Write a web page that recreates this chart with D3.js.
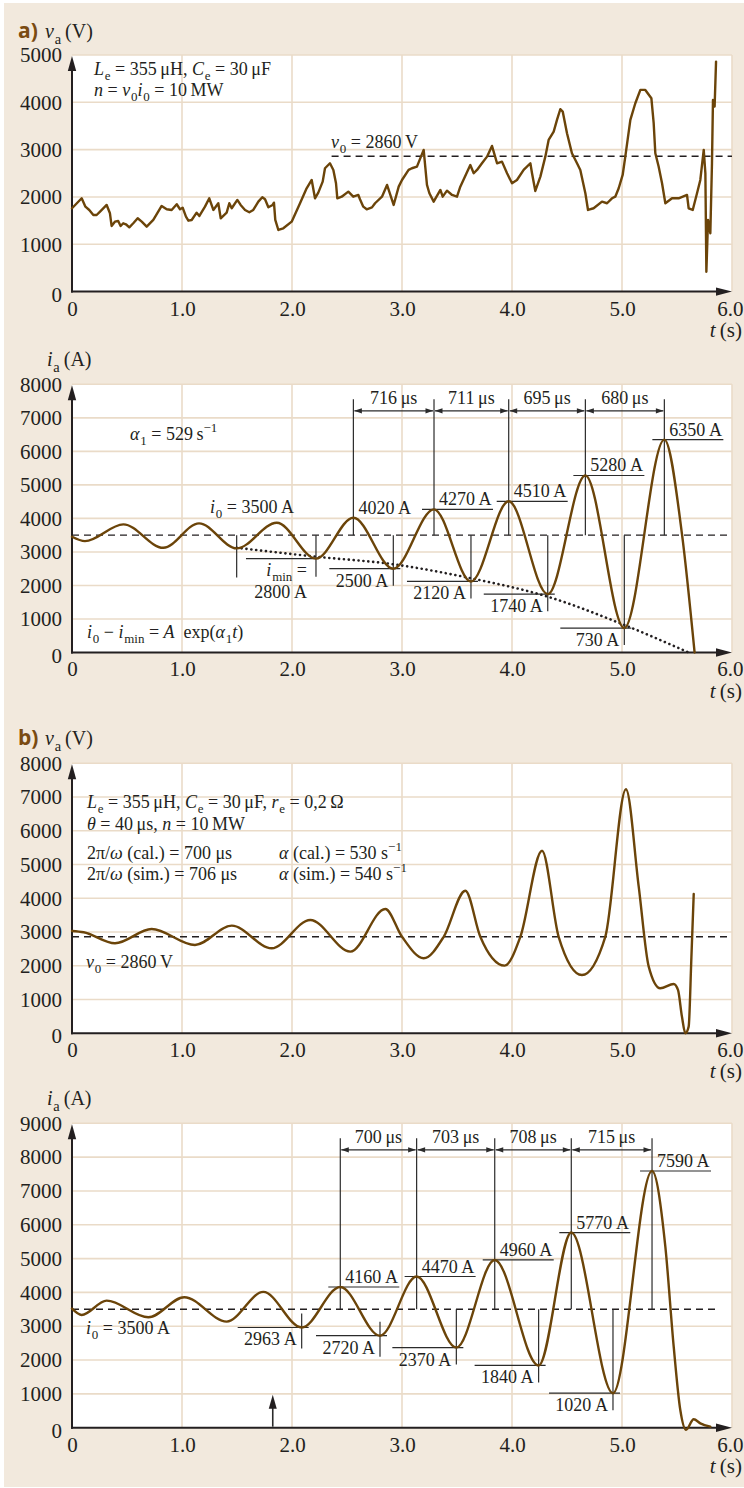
<!DOCTYPE html>
<html>
<head>
<meta charset="utf-8">
<script src="https://cdn.jsdelivr.net/npm/d3@7"></script>
<style>
html, body { margin: 0; padding: 0; background: #fff; }
svg { display: block; }
text { font-family: "Liberation Serif", "Times New Roman", serif; fill: #231f20; }
</style>
</head>
<body>
<svg id="fig" width="744" height="1488"></svg>
<script>
// ---------- (a) measured anode voltage v_a (t in ms) ----------
const vaTime = [0.000, 0.088, 0.122, 0.157, 0.194, 0.224, 0.255, 0.315, 0.345, 0.360, 0.390, 0.420, 0.442, 0.466, 0.490, 0.521,
  0.557, 0.597, 0.634, 0.679, 0.739, 0.815, 0.861, 0.906, 0.952, 0.982, 1.006, 1.036, 1.058, 1.088, 1.133, 1.158, 1.209, 1.248,
  1.285, 1.330, 1.352, 1.406, 1.430, 1.452, 1.503, 1.533, 1.573, 1.612, 1.648, 1.694, 1.730, 1.755, 1.785, 1.824, 1.836, 1.848,
  1.876, 1.921, 1.997, 2.073, 2.133, 2.179, 2.209, 2.239, 2.279, 2.300, 2.345, 2.376, 2.400, 2.412, 2.452, 2.512, 2.557, 2.603,
  2.618, 2.648, 2.679, 2.727, 2.755, 2.818, 2.864, 2.924, 2.970, 3.000, 3.060, 3.090, 3.136, 3.197, 3.227, 3.249, 3.288, 3.349,
  3.370, 3.409, 3.455, 3.500, 3.530, 3.621, 3.652, 3.682, 3.727, 3.773, 3.818, 3.864, 3.909, 3.955, 4.000, 4.045, 4.106, 4.167,
  4.182, 4.212, 4.258, 4.303, 4.333, 4.379, 4.409, 4.439, 4.461, 4.500, 4.545, 4.591, 4.621, 4.667, 4.691, 4.742, 4.818, 4.864,
  4.909, 4.939, 4.970, 5.006, 5.030, 5.055, 5.076, 5.121, 5.167, 5.212, 5.267, 5.288, 5.303, 5.333, 5.364, 5.394, 5.455, 5.515,
  5.591, 5.606, 5.643, 5.682, 5.712, 5.743, 5.758, 5.767, 5.782, 5.803, 5.818, 5.827, 5.842, 5.855];
const vaVolt = [1761, 1972, 1795, 1725, 1619, 1619, 1690, 1831, 1655, 1387, 1478, 1492, 1387, 1444, 1423, 1359,
  1444, 1550, 1478, 1372, 1514, 1810, 1740, 1725, 1846, 1740, 1774, 1584, 1499, 1514, 1668, 1598, 1795, 1972,
  1725, 1867, 1550, 1668, 1867, 1761, 1937, 1831, 1725, 1677, 1725, 1901, 1994, 1951, 1782, 1831, 1880, 1514,
  1302, 1338, 1478, 1867, 2184, 2359, 1972, 2091, 2324, 2607, 2712, 2571, 2290, 1972, 2006, 2112, 2006, 2042,
  1951, 1795, 1740, 1780, 1867, 2006, 2254, 1831, 2218, 2359, 2571, 2607, 2642, 2994, 2254, 2078, 1901, 2148,
  2006, 2133, 2042, 2006, 2218, 2676, 2501, 2571, 2712, 2852, 3078, 2712, 2747, 2501, 2290, 2359, 2571, 2712,
  2501, 2127, 2430, 2852, 3205, 3381, 3628, 3854, 3804, 3347, 2924, 2712, 2571, 2078, 1725, 1761, 1901, 1867,
  1972, 2006, 2184, 2465, 2852, 3275, 3628, 3981, 4262, 4262, 4087, 3558, 2924, 2642, 2290, 1867, 1972, 1972,
  2042, 1761, 1725, 2078, 2359, 2994, 2501, 421, 1514, 1232, 2712, 4051, 3910, 4861];
const v0 = 2860;

// ---------- (a) anode current i_a: turning points of the oscillation ----------
const iaTime = [0, 0.118, 0.467, 0.830, 1.155, 1.497, 1.861, 2.218, 2.558, 2.921, 3.291, 3.627, 3.970, 4.325, 4.667, 5.021, 5.385, 5.545, 5.660];
const iaCur  = [3452, 3323, 3823, 3123, 3853, 3105, 3871, 2800, 4020, 2500, 4270, 2120, 4510, 1740, 5280, 730, 6350, 3540, 0];
const i0 = 3500;
const iaPeakIdx = [8, 10, 12, 14, 16];
const iaPeriods = [716, 711, 695, 680];
const iaMinIdx = [7, 9, 11, 13, 15];
const iaFirstMinIdx = 5;
// envelope of the minima, i0 - A exp(alpha1 t)
const fitTime = [1.497, 2.218, 2.921, 3.627, 4.325, 5.021, 5.606];
const fitCur  = [3124, 2858, 2631, 2214, 1665, 821, 0];

// ---------- (b) simulated anode voltage ----------
const vbTime = [0, 0.106, 0.391, 0.724, 1.118, 1.452, 1.815, 2.166, 2.530, 2.848, 3.000, 3.197, 3.379, 3.576, 3.712, 3.933,
  4.076, 4.273, 4.424, 4.636, 4.848, 5.036, 5.152, 5.243, 5.348, 5.470, 5.509, 5.545, 5.576, 5.606, 5.630, 5.652];
const vbVolt = [3031, 2993, 2667, 3091, 2617, 3190, 2519, 3358, 2419, 3684, 2860, 2222, 2860, 4225, 2860, 2004,
  2860, 5410, 2860, 1728, 2860, 7229, 4345, 1975, 1333, 1462, 1284, 493, 0, 198, 2173, 4128];

// ---------- (b) simulated anode current ----------
const ibTime = [0, 0.088, 0.315, 0.694, 1.021, 1.406, 1.739, 2.088, 2.439, 2.800, 3.133, 3.494, 3.843, 4.242, 4.539, 4.918,
  5.273, 5.394, 5.470, 5.530, 5.582, 5.652, 5.712, 5.803];
const ibCur  = [3521, 3334, 3757, 3266, 3858, 3136, 4015, 2963, 4160, 2720, 4470, 2370, 4960, 1840, 5770, 1020,
  7590, 5355, 2396, 524, -60, 249, 130, 30];
const ibPeakIdx = [8, 10, 12, 14, 16];
const ibPeriods = [700, 703, 708, 715];
const ibMinIdx = [7, 9, 11, 13, 15];
const ibStartTime = [1.825];

// ---------- axis ticks ----------
const timeTicks = [0, 1, 2, 3, 4, 5, 6];

// ================= drawing =================
const INK = '#231f20', BROWN = '#6b4409', GRID = '#eadbc8', PANEL = '#f2e9dd', LINE = '#2b2b2b';
const FS_TICK = 21, FS_NOTE = 18, FS_TITLE = 20;
const svg = d3.select('#fig');
svg.append('rect').attr('x', 4).attr('y', 3).attr('width', 740).attr('height', 1484).attr('fill', PANEL);

const x = d3.scaleLinear().domain([0, 6]).range([72, 732]);

// text with <i>, <sub>, <sup> markup
function rich(g, px, py, markup, size, anchor) {
  const fs = size || FS_NOTE;
  const t = g.append('text').attr('x', px).attr('y', py).attr('font-size', fs)
    .attr('text-anchor', anchor || 'start');
  let italic = false, shift = 0, cur = 0;
  const re = /<(\/?)(i|sub|sup)>/g;
  let last = 0, m;
  const push = s => {
    if (!s) return;
    const ts = t.append('tspan').text(s);
    if (italic) ts.attr('font-style', 'italic');
    if (shift !== cur) {
      ts.attr('dy', shift - cur);
      if (shift > 0) ts.attr('dx', 0.8);
      cur = shift;
    }
    if (shift !== 0) ts.attr('font-size', fs * 0.72);
  };
  while ((m = re.exec(markup))) {
    push(markup.slice(last, m.index));
    last = re.lastIndex;
    const close = m[1] === '/';
    if (m[2] === 'i') italic = !close;
    else if (m[2] === 'sub') shift = close ? 0 : fs * 0.3;
    else shift = close ? 0 : -fs * 0.42;
  }
  push(markup.slice(last));
  return t;
}

function panel(top, bottom, yMax) {
  const y = d3.scaleLinear().domain([0, yMax]).range([bottom, top]);
  const g = svg.append('g');
  g.append('rect').attr('x', 72).attr('y', top).attr('width', 660).attr('height', bottom - top).attr('fill', '#fff');
  const yTicks = d3.range(0, yMax + 1, 1000);
  g.append('g').selectAll('line').data(yTicks.slice(1)).join('line')
    .attr('x1', 72).attr('x2', 732).attr('y1', d => y(d)).attr('y2', d => y(d))
    .attr('stroke', GRID).attr('stroke-width', 1.6);
  g.append('g').selectAll('line').data(timeTicks.slice(1)).join('line')
    .attr('x1', d => x(d)).attr('x2', d => x(d)).attr('y1', top).attr('y2', bottom)
    .attr('stroke', GRID).attr('stroke-width', 1.6);

  // tick labels
  const ya = g.append('g').attr('transform', 'translate(72,0)')
    .call(d3.axisLeft(y).tickValues(yTicks).tickSize(0).tickPadding(10).tickFormat(d3.format('d')));
  ya.select('.domain').remove();
  ya.attr('font-family', null).attr('font-size', FS_TICK);
  ya.selectAll('text').attr('fill', INK).attr('dy', d => d === 0 ? '0.46em' : '0.32em');
  const xa = g.append('g').attr('transform', `translate(0,${bottom})`)
    .call(d3.axisBottom(x).tickValues(timeTicks).tickSize(0).tickPadding(9)
      .tickFormat(d => d === 0 ? '0' : d3.format('.1f')(d)));
  xa.select('.domain').remove();
  xa.attr('font-family', null).attr('font-size', FS_TICK);
  xa.selectAll('text').attr('fill', INK)
    .attr('text-anchor', d => d === 6 ? 'end' : 'middle')
    .attr('x', d => d === 6 ? 743 - x(6) : 0);

  // axis lines with arrows
  g.append('line').attr('x1', 72).attr('x2', 72).attr('y1', bottom + 1).attr('y2', top + 10)
    .attr('stroke', INK).attr('stroke-width', 2);
  g.append('path').attr('d', `M72,${top + 1}L67.8,${top + 16}L76.2,${top + 16}Z`).attr('fill', INK);
  g.append('line').attr('x1', 71).attr('x2', 722).attr('y1', bottom).attr('y2', bottom)
    .attr('stroke', INK).attr('stroke-width', 2);
  g.append('path').attr('d', `M732,${bottom}L716,${bottom - 4.2}L716,${bottom + 4.2}Z`).attr('fill', INK);

  rich(g, 742, bottom + 45, '<i>t</i>\u2009(s)', FS_TICK, 'end');
  return { g, y, top, bottom };
}

function dashed(g, y, v, t1, t2) {
  g.append('line').attr('x1', x(t1)).attr('x2', x(t2)).attr('y1', y(v)).attr('y2', y(v))
    .attr('stroke', INK).attr('stroke-width', 1.4).attr('stroke-dasharray', '7,5');
}

function curve(g, y, ts, vs, interp) {
  const line = d3.line().x(i => x(ts[i])).y(i => y(vs[i])).curve(interp);
  g.append('path').attr('d', line(d3.range(ts.length)))
    .attr('fill', 'none').attr('stroke', BROWN).attr('stroke-width', 2.4)
    .attr('stroke-linejoin', 'round').attr('stroke-linecap', 'round');
}

function seg(g, x1, y1, x2, y2, w) {
  g.append('line').attr('x1', x1).attr('y1', y1).attr('x2', x2).attr('y2', y2)
    .attr('stroke', LINE).attr('stroke-width', w || 1.2);
}

// period arrows between successive maxima
function periods(p, ts, idx, vals, base) {
  const { g, y, top } = p;
  const yTop = top + 15, yArr = top + 26.5, yTxt = top + 19.5;
  idx.forEach(k => seg(g, x(ts[k]), yTop, x(ts[k]), y(base)));
  vals.forEach((v, j) => {
    const xa = x(ts[idx[j]]), xb = x(ts[idx[j + 1]]);
    seg(g, xa + 1, yArr, xb - 1, yArr);
    g.append('path').attr('d', `M${xa + 0.8},${yArr}L${xa + 8.5},${yArr - 2.6}L${xa + 8.5},${yArr + 2.6}Z`).attr('fill', LINE);
    g.append('path').attr('d', `M${xb - 0.8},${yArr}L${xb - 8.5},${yArr - 2.6}L${xb - 8.5},${yArr + 2.6}Z`).attr('fill', LINE);
    g.append('text').attr('x', (xa + xb) / 2).attr('y', yTxt).attr('font-size', FS_NOTE)
      .attr('text-anchor', 'middle').text(`${v}\u2009μs`);
  });
}

function peakLabel(p, t, v, underline) {
  const { g, y } = p;
  const px = x(t), py = y(v);
  if (underline) seg(g, px - 12, py, px + 59, py);
  g.append('text').attr('x', px + 5).attr('y', py - 4).attr('font-size', FS_NOTE).text(`${v}\u2009A`);
}

function minLabel(p, t, v, base, shortTick) {
  const { g, y } = p;
  const px = x(t), py = y(v);
  seg(g, px - 64, py, px + 7, py);
  if (shortTick) seg(g, px, py - 14, px, py + 21);
  else seg(g, px, y(base), px, py + 17);
  g.append('text').attr('x', px - 5).attr('y', py + 18).attr('font-size', FS_NOTE)
    .attr('text-anchor', 'end').text(`${v}\u2009A`);
}

function titleBlock(px, py, tag, markup) {
  if (tag) {
    svg.append('text').attr('x', 18).attr('y', py).attr('font-size', 21).attr('font-weight', 700)
      .style('font-family', '"Open Sans", "Noto Sans", sans-serif').style('fill', '#7a4b12').text(tag);
  }
  rich(svg, px, py, markup, FS_TITLE);
}

// ---------- panel (a) voltage ----------
titleBlock(45, 38, 'a)', '<i>v</i><sub>a</sub>\u2009(V)');
const pA1 = panel(55, 291.6, 5000);
dashed(pA1.g, pA1.y, v0, 2.36, 6);
rich(pA1.g, 331, 148, `<i>v</i><sub>0</sub> = ${v0}\u2009V`);
curve(pA1.g, pA1.y, vaTime, vaVolt, d3.curveLinear);
rich(pA1.g, 94, 75, '<i>L</i><sub>e</sub> = 355\u2009μH, <i>C</i><sub>e</sub> = 30\u2009μF');
rich(pA1.g, 94, 96, '<i>n</i> = <i>v</i><sub>0</sub><i>i</i><sub>0</sub> = 10\u2009MW');

// ---------- panel (a) current ----------
titleBlock(47, 366, null, '<i>i</i><sub>a</sub>\u2009(A)');
const pA2 = panel(384.3, 652.5, 8000);
dashed(pA2.g, pA2.y, i0, 0, 6);
periods(pA2, iaTime, iaPeakIdx, iaPeriods, i0);
{
  const k = iaFirstMinIdx, px = x(iaTime[k]);
  seg(pA2.g, px, pA2.y(i0), px, pA2.y(iaCur[k]) + 29);
}
iaPeakIdx.forEach((k, j) => peakLabel(pA2, iaTime[k], iaCur[k], j > 0));
iaMinIdx.forEach((k, j) => {
  if (j === 0) {
    const px = x(iaTime[k]), py = pA2.y(iaCur[k]);
    seg(pA2.g, px - 70, py, px, py);
    seg(pA2.g, px, pA2.y(i0), px, py + 18);
    rich(pA2.g, px - 9, py + 17, '<i>i</i><sub>min</sub> =', FS_NOTE, 'end');
    pA2.g.append('text').attr('x', px - 9).attr('y', py + 39).attr('font-size', FS_NOTE)
      .attr('text-anchor', 'end').text(`${iaCur[k]}\u2009A`);
  } else minLabel(pA2, iaTime[k], iaCur[k], i0, false);
});
pA2.g.append('path')
  .attr('d', d3.line().x(i => x(fitTime[i])).y(i => pA2.y(fitCur[i])).curve(d3.curveMonotoneX)(d3.range(fitTime.length)))
  .attr('fill', 'none').attr('stroke', INK).attr('stroke-width', 2.6)
  .attr('stroke-dasharray', '0.1,4.8').attr('stroke-linecap', 'round');
curve(pA2.g, pA2.y, iaTime, iaCur, d3.curveMonotoneX);
rich(pA2.g, 130, 440, '<i>α</i><sub>1</sub> = 529\u2009s<sup>−1</sup>');
rich(pA2.g, 210, 513, `<i>i</i><sub>0</sub> = ${i0}\u2009A`);
rich(pA2.g, 87, 638, '<i>i</i><sub>0</sub> − <i>i</i><sub>min</sub> = <i>A</i>\u2002exp(<i>α</i><sub>1</sub><i>t</i>)');

// ---------- panel (b) voltage ----------
titleBlock(45, 745, 'b)', '<i>v</i><sub>a</sub>\u2009(V)');
const pB1 = panel(763.3, 1033.3, 8000);
dashed(pB1.g, pB1.y, v0, 0, 5.98);
curve(pB1.g, pB1.y, vbTime, vbVolt, d3.curveMonotoneX);
rich(pB1.g, 87, 808, '<i>L</i><sub>e</sub> = 355\u2009μH, <i>C</i><sub>e</sub> = 30\u2009μF, <i>r</i><sub>e</sub> = 0,2\u2009Ω');
rich(pB1.g, 87, 830, '<i>θ</i> = 40\u2009μs, <i>n</i> = 10\u2009MW');
rich(pB1.g, 87, 859, '2π/<i>ω</i> (cal.) = 700 μs');
rich(pB1.g, 87, 880, '2π/<i>ω</i> (sim.) = 706 μs');
rich(pB1.g, 279, 859, '<i>α</i> (cal.) = 530 s<sup>−1</sup>');
rich(pB1.g, 279, 880, '<i>α</i> (sim.) = 540 s<sup>−1</sup>');
rich(pB1.g, 86, 968, `<i>v</i><sub>0</sub> = ${v0}\u2009V`);

// ---------- panel (b) current ----------
titleBlock(47, 1105, null, '<i>i</i><sub>a</sub>\u2009(A)');
const pB2 = panel(1123.3, 1427.7, 9000);
dashed(pB2.g, pB2.y, i0, 0, 5.88);
periods(pB2, ibTime, ibPeakIdx, ibPeriods, i0);
ibPeakIdx.forEach(k => peakLabel(pB2, ibTime[k], ibCur[k], true));
ibMinIdx.forEach((k, j) => minLabel(pB2, ibTime[k], ibCur[k], i0, j < 2));
ibStartTime.forEach(t => {
  const px = x(t), yb = pB2.bottom;
  seg(pB2.g, px, yb - 1, px, yb - 24, 1.6);
  pB2.g.append('path').attr('d', `M${px},${yb - 33}L${px - 4},${yb - 19}L${px + 4},${yb - 19}Z`).attr('fill', INK);
});
curve(pB2.g, pB2.y, ibTime, ibCur, d3.curveMonotoneX);
rich(pB2.g, 86, 1334, `<i>i</i><sub>0</sub> = ${i0}\u2009A`);
</script>
</body>
</html>
